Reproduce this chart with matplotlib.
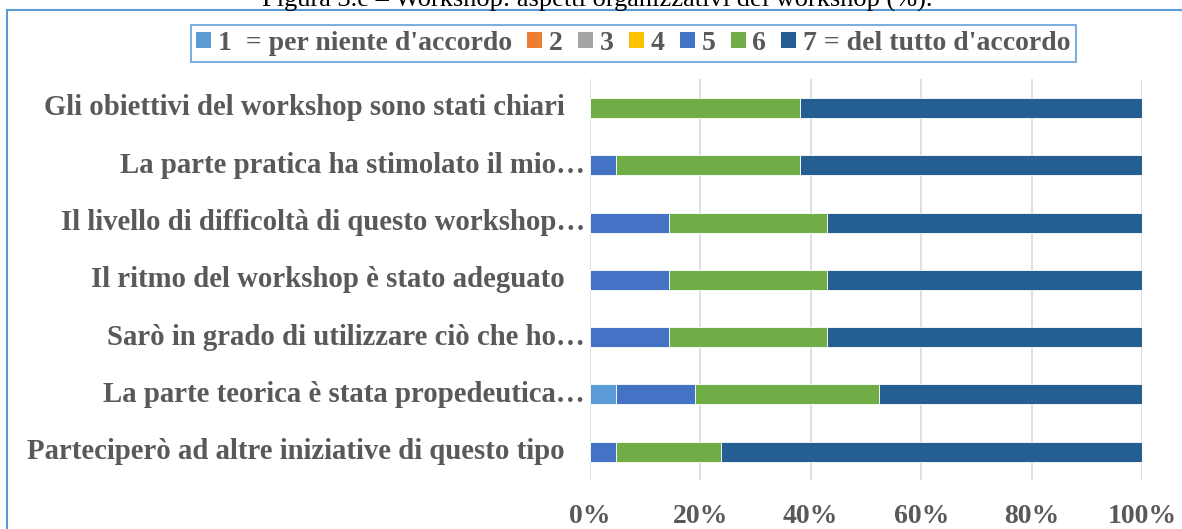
import matplotlib
matplotlib.use("Agg")
import matplotlib.pyplot as plt
from matplotlib.patches import Rectangle, Patch
from matplotlib.transforms import blended_transform_factory, ScaledTranslation
import numpy as np

# ---------------- data ----------------
title = "Figura 3.e \u2013 Workshop: aspetti organizzativi del workshop (%)."
categories = [
    "Gli obiettivi del workshop sono stati chiari",
    "La parte pratica ha stimolato il mio\u2026",
    "Il livello di difficolt\u00e0 di questo workshop\u2026",
    "Il ritmo del workshop \u00e8 stato adeguato",
    "Sar\u00f2 in grado di utilizzare ci\u00f2 che ho\u2026",
    "La parte teorica \u00e8 stata propedeutica\u2026",
    "Parteciper\u00f2 ad altre iniziative di questo tipo",
]
series_labels = ["1  = per niente d'accordo", "2", "3", "4", "5", "6",
                 "7 = del tutto d'accordo"]
s1 = [0, 0, 0, 0, 0, 4.8, 0]
s2 = [0, 0, 0, 0, 0, 0, 0]
s3 = [0, 0, 0, 0, 0, 0, 0]
s4 = [0, 0, 0, 0, 0, 0, 0]
s5 = [0, 4.8, 14.3, 14.3, 14.3, 14.3, 4.8]
s6 = [38.1, 33.3, 28.6, 28.6, 28.6, 33.3, 19.0]
s7 = [61.9, 61.9, 57.1, 57.1, 57.1, 47.6, 76.2]
xticks = [0, 20, 40, 60, 80, 100]
xtick_labels = ["0%", "20%", "40%", "60%", "80%", "100%"]

colors = ["#5b9bd5", "#ed7d31", "#a5a5a5", "#ffc000", "#4472c4", "#70ad47", "#255e91"]
series = [s1, s2, s3, s4, s5, s6, s7]

# ---------------- figure ----------------
W, H = 1182, 529
fig = plt.figure(figsize=(W / 100, H / 100), dpi=100)
FONT = "Liberation Serif"
GRAY = "#595959"

ax = fig.add_axes([590 / W, 1 - 480.4 / H, (1142 - 590) / W, (480.4 - 79.3) / H])

y = np.arange(len(categories))
left = np.zeros(len(categories))
for vals, col in zip(series, colors):
    v = np.array(vals, dtype=float)
    ax.barh(y, v, left=left, height=0.35, color=col, edgecolor="white",
            linewidth=0.6, zorder=3)
    left += v

ax.set_xlim(0, 100)
ax.set_ylim(len(categories) - 0.5, -0.5)
ax.set_xticks(xticks)
ax.set_xticklabels(xtick_labels, fontfamily=FONT, fontweight="bold",
                   fontsize=20, color=GRAY)
ax.tick_params(axis="x", length=0, pad=17)
ax.set_yticks([])
ax.grid(axis="x", color="#d9d9d9", linewidth=1.2, zorder=0)
for sp in ax.spines.values():
    sp.set_visible(False)

# category labels (right aligned to the left of the plot)
for i, lab in enumerate(categories):
    pad_px = 5 if lab.endswith("\u2026") else 25
    tr = blended_transform_factory(ax.transAxes, ax.transData) + \
        ScaledTranslation(-pad_px / 100, 0, fig.dpi_scale_trans)
    ax.text(0, i, lab, transform=tr, ha="right", va="center",
            fontfamily=FONT, fontweight="bold", fontsize=20.7, color=GRAY)

# outer border
fig.add_artist(Rectangle((7 / W, -0.2), 1.2, (1 - 10 / H) + 0.2,
                         transform=fig.transFigure, fill=False,
                         edgecolor="#5b9bd5", linewidth=1.5))

# title (partly cut at top, as in the reference)
fig.text(597 / W, 1 - 7 / H, title, ha="center", va="baseline",
         fontfamily=FONT, fontsize=19, color="black")

# legend
handles = [Patch(facecolor=c, edgecolor="none") for c in colors]
leg = fig.legend(handles, series_labels, ncol=7, loc="center",
                 bbox_to_anchor=(633.5 / W, 1 - 43.5 / H),
                 prop={"family": FONT, "weight": "bold", "size": 20},
                 handlelength=0.54, handleheight=0.54, handletextpad=0.25,
                 columnspacing=0.54, borderpad=0.2, frameon=True,
                 fancybox=False, borderaxespad=0)
for t in leg.get_texts():
    t.set_color(GRAY)
leg.get_frame().set_edgecolor("#5b9bd5")
leg.get_frame().set_linewidth(1.5)

fig.savefig("out.png", dpi=100)
